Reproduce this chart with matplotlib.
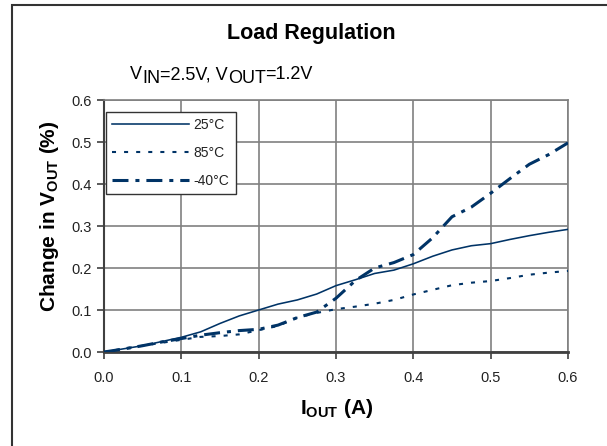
import matplotlib
matplotlib.use('Agg')
import matplotlib.pyplot as plt
from matplotlib.patches import Rectangle
from matplotlib.text import Annotation
from matplotlib.ticker import FormatStrFormatter

plt.rcParams['font.family'] = ['Liberation Sans', 'DejaVu Sans']
plt.rcParams['mathtext.fontset'] = 'custom'
plt.rcParams['mathtext.rm'] = 'Liberation Sans'
plt.rcParams['mathtext.bf'] = 'Liberation Sans:bold'
plt.rcParams['mathtext.it'] = 'Liberation Sans:italic'
plt.rcParams['lines.scale_dashes'] = False

# ---- data ----
iout_25 = [0, 0.05, 0.1, 0.125, 0.15, 0.175, 0.2, 0.225, 0.25, 0.275, 0.3, 0.325,
           0.35, 0.375, 0.4, 0.425, 0.45, 0.475, 0.5, 0.525, 0.55, 0.575, 0.6]
dv_25 = [0, 0.015, 0.035, 0.048, 0.068, 0.086, 0.1, 0.114, 0.124, 0.138, 0.158, 0.172,
         0.187, 0.195, 0.21, 0.228, 0.243, 0.253, 0.258, 0.268, 0.277, 0.285, 0.292]

iout_85 = [0, 0.025, 0.05, 0.075, 0.1, 0.125, 0.15, 0.175, 0.2, 0.225, 0.25, 0.275, 0.3,
           0.325, 0.35, 0.375, 0.4, 0.425, 0.45, 0.475, 0.5, 0.525, 0.55, 0.575, 0.6]
dv_85 = [0, 0.008, 0.015, 0.022, 0.029, 0.036, 0.038, 0.042, 0.052, 0.062, 0.082, 0.093, 0.102,
         0.108, 0.115, 0.124, 0.137, 0.148, 0.159, 0.165, 0.169, 0.176, 0.184, 0.189, 0.193]

iout_m40 = [0, 0.025, 0.05, 0.075, 0.1, 0.125, 0.15, 0.175, 0.2, 0.225, 0.25, 0.275, 0.3,
            0.325, 0.35, 0.375, 0.4, 0.425, 0.45, 0.475, 0.5, 0.525, 0.55, 0.575, 0.6]
dv_m40 = [0, 0.007, 0.015, 0.024, 0.032, 0.04, 0.046, 0.051, 0.054, 0.064, 0.082, 0.095, 0.128,
          0.17, 0.2, 0.213, 0.232, 0.272, 0.322, 0.345, 0.378, 0.413, 0.447, 0.47, 0.498]

series_labels = ['25°C', '85°C', '-40°C']
xticks = [0.0, 0.1, 0.2, 0.3, 0.4, 0.5, 0.6]
yticks = [0.0, 0.1, 0.2, 0.3, 0.4, 0.5, 0.6]
subtitle_parts = [('V', False), ('IN', True), ('=2.5V, V', False), ('OUT', True), ('=1.2V', False)]

W, H = 607, 446
fig = plt.figure(figsize=(W / 100, H / 100), dpi=100)
fig.patch.set_facecolor('white')

# outer chart border (extends past the image on right and bottom)
fig.add_artist(Rectangle((12 / W, -0.2), 1.5, 0.2 + 1 - 5 / H, transform=fig.transFigure,
                         fill=False, edgecolor='#333333', lw=1.5))

ax = fig.add_axes([104 / W, 1 - 352 / H, 464 / W, 252 / H])

navy = '#003366'
ax.plot(iout_25, dv_25, color=navy, lw=1.15, label=series_labels[0], zorder=3)
ax.plot(iout_85, dv_85, color=navy, lw=1.5, linestyle=(0, (2.9, 5.8)),
        label=series_labels[1], zorder=3)
ax.plot(iout_m40, dv_m40, color=navy, lw=2.2, linestyle=(0, (11.5, 5, 2.9, 5)),
        label=series_labels[2], zorder=3)

ax.set_xlim(0, 0.6)
ax.set_ylim(0, 0.6)
ax.set_xticks(xticks)
ax.set_yticks(yticks)
ax.xaxis.set_major_formatter(FormatStrFormatter('%.1f'))
ax.yaxis.set_major_formatter(FormatStrFormatter('%.1f'))
ax.grid(True, color='#808080', lw=1.2)
ax.set_axisbelow(True)

for s in ['top', 'right']:
    ax.spines[s].set_color('#808080')
    ax.spines[s].set_linewidth(1.2)
ax.spines['left'].set_color('#404040')
ax.spines['left'].set_linewidth(1.5)
ax.spines['bottom'].set_color('#404040')
ax.spines['bottom'].set_linewidth(2)

ax.tick_params(axis='both', direction='out', length=5, width=1.2, color='#404040',
               labelsize=10.5, labelcolor='#222222')
ax.tick_params(axis='x', pad=9)
ax.tick_params(axis='y', pad=4)

leg = ax.legend(loc='upper left', bbox_to_anchor=(106 / W, 1 - 112 / H),
                bbox_transform=fig.transFigure, borderaxespad=0, fontsize=10,
                handlelength=5.5, handletextpad=0.35, borderpad=0.45, labelspacing=1.0,
                fancybox=False, framealpha=1, edgecolor='#333333')
leg.get_frame().set_linewidth(1.0)
for t in leg.get_texts():
    t.set_color('#222222')

fig.text(311 / W, 1 - 33 / H, 'Load Regulation', ha='center', va='center',
         fontsize=15.5, fontweight='bold')

# subtitle built from pieces: subscripts are full-size text shifted down
last = fig.text(130 / W, 1 - 83 / H, subtitle_parts[0][0], ha='left', va='bottom', fontsize=13)
last_sub = subtitle_parts[0][1]
for txt, is_sub in subtitle_parts[1:]:
    dy = (-3 if is_sub else 0) - (-3 if last_sub else 0)
    last = fig.add_artist(Annotation(txt, xy=(1, 0), xycoords=last, xytext=(0, dy),
                                     textcoords='offset points', ha='left', va='bottom',
                                     fontsize=13))
    last_sub = is_sub

fig.text(50 / W, 1 - 216 / H, r'Change in V$_{\mathbf{OUT}}$ (%)', rotation=90,
         ha='center', va='center', fontsize=15, fontweight='bold')
fig.text(337 / W, 1 - 408 / H, r'I$_{\mathbf{OUT}}$ (A)', ha='center', va='center',
         fontsize=15, fontweight='bold')

fig.savefig('out.png', dpi=100)
